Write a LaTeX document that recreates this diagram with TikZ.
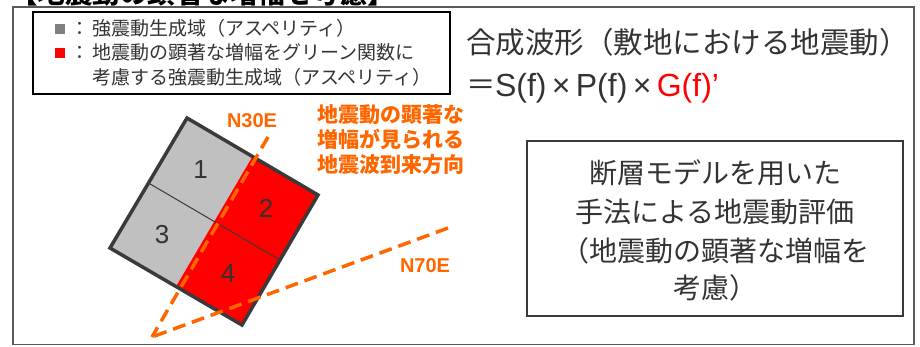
\documentclass[tikz,border=0pt]{standalone}
\usepackage{fontspec}
\setmainfont{Noto Sans CJK JP}
\newfontfamily\lat{Liberation Sans}
\usetikzlibrary{calc}
\definecolor{orng}{RGB}{255,102,0}
\definecolor{txtc}{RGB}{51,51,51}
\definecolor{framec}{RGB}{90,90,90}
\definecolor{faultgray}{RGB}{192,192,192}
\definecolor{bordc}{RGB}{58,58,58}
\definecolor{sqgray}{RGB}{128,128,128}
\begin{document}
\begin{tikzpicture}[x=1pt,y=-1pt,
  every node/.style={inner sep=0pt,outer sep=0pt},
  legtxt/.style={anchor=base west,text=txtc,font=\fontsize{19}{22}\selectfont},
  bigtxt/.style={text=txtc,font=\fontsize{29.5}{34}\selectfont},
  formtxt/.style={text=txtc,font=\lat\fontsize{32}{34}\selectfont},
  boxtxt/.style={anchor=base,text=txtc,font=\fontsize{28}{32}\selectfont},
  orntxt/.style={anchor=base west,text=orng,font=\bfseries\fontsize{21}{24}\selectfont},
  dirlbl/.style={anchor=base west,text=orng,font=\lat\bfseries\fontsize{20}{22}\selectfont},
  numlbl/.style={text=txtc,font=\lat\fontsize{26}{28}\selectfont},
  dirline/.style={draw=orng,line width=3.5pt,dash pattern=on 13pt off 7pt}]
\useasboundingbox (0,0) rectangle (920,346);
% cut-off title
\begin{scope}
\clip (0,0) rectangle (920,346);
\node[anchor=base west,font=\bfseries\fontsize{27.5}{30}\selectfont] (title) at (10,3) {【地震動の顕著な増幅を考慮】};
\end{scope}
% outer frame
\draw[framec,line width=1.5pt] (13,7) rectangle (914,344.5);
% legend
\node[draw=black,line width=2pt,minimum width=417pt,minimum height=82pt,anchor=north west] (legend) at (33,12) {};
\node[fill=sqgray,minimum size=10pt] (sq1) at (60,29) {};
\node[fill=red,minimum size=10pt] (sq2) at (60,52.5) {};
\node[legtxt,anchor=base] (c1) at (80,35.5) {：};
\node[legtxt,anchor=base] (c2) at (80,59) {：};
\node[legtxt] (l1) at (92,35.5) {強震動生成域（アスペリティ）};
\node[legtxt] (l2) at (92,59) {地震動の顕著な増幅をグリーン関数に};
\node[legtxt] (l3) at (92,84.5) {考慮する強震動生成域（アスペリティ）};
% formula
\node[bigtxt,anchor=base west] (f1) at (466,53) {合成波形（敷地における地震動）};
\node[bigtxt,anchor=base] (eq) at (481,95) {＝};
\node[formtxt,anchor=base west] (f2) at (495,96) {S(f)\,×\,P(f)\,×\,{\color{red}G(f)’}};
% method box
\node[draw=bordc,line width=1.5pt,minimum width=376pt,minimum height=175pt,anchor=north west] (mbox) at (527,141) {};
\node[boxtxt] (m1) at (715,183) {断層モデルを用いた};
\node[boxtxt] (m2) at (715,222) {手法による地震動評価};
\node[boxtxt] (m3) at (715,261) {（地震動の顕著な増幅を};
\node[boxtxt] (m4) at (715,298) {考慮）};
% fault model
\coordinate (T) at (187,118);
\coordinate (R) at (318,195);
\coordinate (B) at (242,325);
\coordinate (L) at (110,248);
\coordinate (MT) at ($(T)!0.5!(R)$);
\coordinate (MB) at ($(L)!0.5!(B)$);
\coordinate (ML) at ($(T)!0.5!(L)$);
\coordinate (MR) at ($(R)!0.5!(B)$);
\coordinate (C) at ($(ML)!0.5!(MR)$);
\fill[faultgray] (T) -- (MT) -- (MB) -- (L) -- cycle;
\fill[red] (MT) -- (R) -- (B) -- (MB) -- cycle;
\draw[bordc,line width=1pt] (ML) -- (MR);
\draw[bordc,line width=3.5pt,line join=miter] (T) -- (R) -- (B) -- (L) -- cycle;
\node[numlbl] (n1) at ($(T)!0.5!(C)$) {1};
\node[numlbl] (n2) at ($(R)!0.5!(C)$) {2};
\node[numlbl] (n3) at ($(L)!0.5!(C)$) {3};
\node[numlbl] (n4) at ($(B)!0.5!(C)$) {4};
% directions
\coordinate (A) at (152,337);
\coordinate (D30) at (268,137);
\coordinate (D70) at (448,228);
\draw[dirline] (D30) -- (A);
\draw[dirline] (D70) -- (A);
\node[dirlbl] (lab30) at (227,127) {N30E};
\node[dirlbl] (lab70) at (400,272) {N70E};
\node[orntxt] (o1) at (317,122) {地震動の顕著な};
\node[orntxt] (o2) at (317,147) {増幅が見られる};
\node[orntxt] (o3) at (317,172) {地震波到来方向};
\end{tikzpicture}
\end{document}
